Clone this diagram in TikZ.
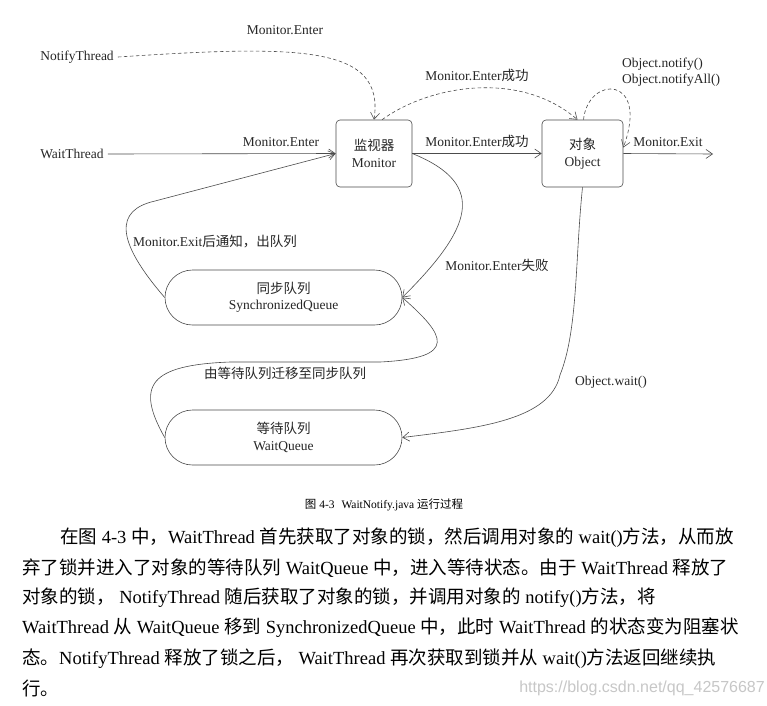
\documentclass[tikz,border=0pt]{standalone}
\usepackage{fontspec}
\setmainfont{Liberation Serif}
\newfontfamily\cjk{Noto Sans CJK SC}
\newfontfamily\wmfont{Liberation Sans}
\usetikzlibrary{arrows.meta,calc}
\newcommand\zh[1]{{\cjk #1}}
\begin{document}
\begin{tikzpicture}[x=1pt,y=-1pt,
  lbl/.style={font=\fontsize{13.5}{16}\selectfont, inner sep=0pt, text=black!85},
  boxnode/.style={draw=black!70, line width=0.6pt, rounded corners=4pt, align=center,
    font=\fontsize{13.5}{16.5}\selectfont, minimum height=67pt, inner sep=0pt, text=black!85},
  queue/.style={draw=black!70, line width=0.6pt, rounded corners=27.5pt, minimum width=237pt,
    minimum height=55pt, align=center, font=\fontsize{13.5}{16.5}\selectfont, inner sep=0pt, text=black!85},
  conn/.style={draw=black!70, line width=0.6pt, -{Straight Barb[length=6.5pt,width=9pt]}},
  dconn/.style={conn, dash pattern=on 3.5pt off 2.5pt},
  body/.style={font=\fontsize{18.5}{22}\selectfont, inner sep=0pt, anchor=west, text=black}]
\fill[white] (0,0) rectangle (767,705);
\useasboundingbox (0,0) rectangle (767,705);

% main nodes
\node[lbl, inner sep=4pt] (nt) at (77,57) {NotifyThread};
\node[lbl, inner sep=4pt] (wt) at (72,154) {WaitThread};
\node[boxnode, minimum width=76pt] (mon) at (374,153.5) {\zh{监视器}\\Monitor};
\node[boxnode, minimum width=81pt] (obj) at (582.5,153.5) {\zh{对象}\\Object};
\node[queue] (sq) at (283.5,297.5) {\zh{同步队列}\\SynchronizedQueue};
\node[queue] (wq) at (283.5,437.5) {\zh{等待队列}\\WaitQueue};
\coordinate (exitend) at (713,154);
\coordinate (bend1) at (155,201);

% labels
\node[lbl] (l1) at (285,30) {Monitor.Enter};
\node[lbl] (l2) at (281,142) {Monitor.Enter};
\node[lbl] (l3) at (477,75) {Monitor.Enter\zh{成功}};
\node[lbl] (l4) at (477,141) {Monitor.Enter\zh{成功}};
\node[lbl, anchor=west] (l5) at (622,64) {Object.notify()};
\node[lbl, anchor=west] (l6) at (622,80) {Object.notifyAll()};
\node[lbl] (l7) at (668,142) {Monitor.Exit};
\node[lbl] (l8) at (215,242) {Monitor.Exit\zh{后通知，出队列}};
\node[lbl] (l9) at (497,265) {Monitor.Enter\zh{失败}};
\node[lbl] (l10) at (285,373) {\zh{由等待队列迁移至同步队列}};
\node[lbl] (l11) at (611,382) {Object.wait()};

% connectors
\draw[dconn] (nt.east) .. controls (300,45) and (385,45) .. (mon.north);
\draw[conn] (wt.east) -- (mon.west);
\draw[conn] (mon.east) -- (obj.west);
\draw[dconn] ($(mon.north)+(8,0)$) .. controls (430,85) and (520,70) .. ($(obj.north)+(-5,0)$);
\draw[dconn] ($(obj.north)+(1,0)$) .. controls (588,75) and (650,75) .. ($(obj.east)+(0,-6)$);
\draw[conn] (obj.east) -- (exitend);
\draw[conn] (mon.east) .. controls (490,185) and (470,230) .. (sq.east);
\draw[conn] (sq.west) .. controls (115,240) and (115,210) .. (bend1) -- (mon.west);
\draw[conn] (wq.west) .. controls (135,385) and (150,365) .. (230,362) -- (380,362) .. controls (460,358) and (445,335) .. (sq.east);
\draw[conn] (obj.south) .. controls (575,260) and (578,330) .. (560,375) .. controls (550,420) and (480,428) .. (wq.east);

% caption
\node[font=\fontsize{11.5}{13}\selectfont, inner sep=0pt] (cap) at (384,505) {\zh{图} 4-3\hspace{0.6em}WaitNotify.java \zh{运行过程}};

% body text
\node[body] (b1) at (60,538) {\zh{在图} 4-3 \zh{中，}WaitThread \zh{首先获取了对象的锁，然后调用对象的} wait()\zh{方法，从而放}};
\node[body] (b2) at (22,568) {\zh{弃了锁并进入了对象的等待队列} WaitQueue \zh{中，进入等待状态。由于} WaitThread \zh{释放了}};
\node[body] (b3) at (22,598) {\zh{对象的锁，} NotifyThread \zh{随后获取了对象的锁，并调用对象的} notify()\zh{方法，将}};
\node[body] (b4) at (22,628) {WaitThread \zh{从} WaitQueue \zh{移到} SynchronizedQueue \zh{中，此时} WaitThread \zh{的状态变为阻塞状}};
\node[body] (b5) at (22,659) {\zh{态。}NotifyThread \zh{释放了锁之后，} WaitThread \zh{再次获取到锁并从} wait()\zh{方法返回继续执}};
\node[body] (b6) at (22,688) {\zh{行。}};

% watermark
\node[font=\wmfont\fontsize{16}{18}\selectfont, text=black!22, anchor=east, inner sep=0pt] (wm) at (765,688) {https://blog.csdn.net/qq\_42576687};
\end{tikzpicture}
\end{document}
